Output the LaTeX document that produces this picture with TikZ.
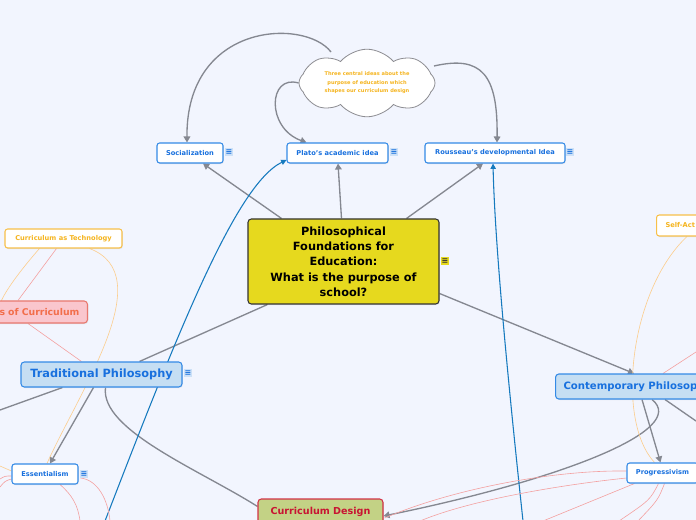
\documentclass[tikz,border=0pt]{standalone}
\usepackage{fontspec}
\setmainfont{DejaVu Sans}
\usetikzlibrary{arrows.meta,shapes.symbols,calc,shadows}
\pgfdeclarelayer{bg}
\pgfsetlayers{bg,main}
\definecolor{bgc}{RGB}{242,245,254}
\definecolor{txtblue}{RGB}{24,112,222}
\definecolor{boxblue}{RGB}{52,138,230}
\definecolor{lightblue}{RGB}{197,222,243}
\definecolor{iconbg}{RGB}{205,225,247}
\definecolor{centralfill}{RGB}{230,217,30}
\definecolor{arrgray}{RGB}{133,136,145}
\definecolor{orangetxt}{RGB}{245,180,30}
\definecolor{orangebox}{RGB}{247,192,74}
\definecolor{orangeline}{RGB}{252,205,140}
\definecolor{pinkline}{RGB}{244,160,160}
\definecolor{salmonfill}{RGB}{250,198,205}
\definecolor{salmonbox}{RGB}{232,120,110}
\definecolor{salmontxt}{RGB}{242,110,75}
\definecolor{olivefill}{RGB}{195,210,133}
\definecolor{crimsonbox}{RGB}{210,50,70}
\definecolor{crimsontxt}{RGB}{200,20,50}
\definecolor{bluecon}{RGB}{22,122,190}
\definecolor{cloudline}{RGB}{140,140,145}
\tikzset{
  shad/.style={drop shadow={opacity=0.15,shadow xshift=0.6pt,shadow yshift=-0.8pt}},
  subbox/.style={draw=boxblue, fill=white, rounded corners=2pt, line width=0.8pt,
    text=txtblue, font=\bfseries\fontsize{5}{6}\selectfont, minimum height=15pt,
    inner sep=0pt, shad},
  mainbox/.style={draw=boxblue, fill=lightblue, rounded corners=2.5pt, line width=0.8pt,
    text=txtblue, font=\bfseries\fontsize{8.5}{10}\selectfont, inner sep=0pt, shad},
  orbox/.style={draw=orangebox, fill=white, rounded corners=2pt, line width=0.8pt,
    text=orangetxt, font=\bfseries\fontsize{5}{6}\selectfont, inner sep=0pt, shad},
  icon/.style={fill=iconbg, text=txtblue, font=\bfseries\fontsize{6}{6}\selectfont,
    inner sep=0.6pt, minimum width=6pt, minimum height=6.5pt},
  garrow/.style={draw=arrgray, line width=1pt, -{Triangle[width=5pt,length=4.5pt]}},
  gline/.style={draw=arrgray, line width=1pt},
  pline/.style={draw=pinkline, line width=0.45pt},
  oline/.style={draw=orangeline, line width=0.45pt},
  barrow/.style={draw=bluecon, line width=0.8pt, -{Triangle[width=4pt,length=4pt]}}
}
\begin{document}
\begin{tikzpicture}[x=0.75pt,y=-0.75pt]
\useasboundingbox (0,0) rectangle (696,520);
\begin{pgfonlayer}{bg}
\fill[bgc] (0,0) rectangle (696,520);
\end{pgfonlayer}

% ---------- nodes ----------
\node[shape=cloud, cloud puffs=8, cloud puff arc=100, aspect=2.4,
  minimum width=102pt, minimum height=46pt, inner sep=0pt,
  draw=cloudline, fill=white, line width=0.6pt, text=orangetxt, align=center,
  font=\bfseries\fontsize{3.8}{6.4}\selectfont] (cloud) at (367,83)
  {Three central ideas about the\\purpose of education which\\shapes our curriculum design};

\node[subbox, minimum width=49.5pt] (soc) at (190,153) {Socialization};
\node[subbox, minimum width=75.75pt] (plato) at (337.5,153) {Plato's academic idea};
\node[subbox, minimum width=105pt] (rous) at (495,153) {Rousseau's developmental Idea};
\node[icon] (socI) at (229,152) {≡};
\node[icon] (platoI) at (394,152) {≡};
\node[icon] (rousI) at (570,152) {≡};

\node[draw=black!80, fill=centralfill, rounded corners=2.5pt, line width=0.8pt,
  minimum width=143.25pt, minimum height=63.75pt, align=center, inner sep=0pt,
  font=\bfseries\fontsize{8.5}{11.5}\selectfont, shad] (central) at (343.5,261.5)
  {Philosophical\\Foundations for\\ Education:\\What is the purpose of\\school?};
\node[icon, fill=centralfill, text=black!80] (centralI) at (445,261) {≡};

\node[orbox, minimum width=87.75pt, minimum height=14.25pt] (techno) at (63.5,238.5)
  {Curriculum as Technology};
\node[orbox, minimum height=15.75pt, anchor=west, text width=70pt, align=left,
  inner xsep=6.75pt] (selfact) at (656,225.5) {Self-Act};

\node[draw=salmonbox, fill=salmonfill, rounded corners=2.5pt, line width=0.8pt,
  text=salmontxt, font=\bfseries\fontsize{7}{8}\selectfont, minimum height=16.5pt,
  inner ysep=0pt, inner xsep=6pt, text width=100pt, align=right, anchor=east, shad]
  (socur) at (88,312) {s of Curriculum};

\node[mainbox, minimum width=120.75pt, minimum height=18.75pt] (trad) at (101.5,374.5)
  {Traditional Philosophy};
\node[icon] (tradI) at (188,373) {≡};
\node[mainbox, minimum height=18.75pt, anchor=west, text width=140pt, align=left,
  inner xsep=6pt, font=\bfseries\fontsize{7.6}{9}\selectfont] (contemp) at (555,386.5)
  {Contemporary Philosop};

\node[subbox, minimum width=49.5pt] (essen) at (45,474) {Essentialism};
\node[icon] (essenI) at (84,474) {≡};
\node[subbox, minimum width=53.25pt] (prog) at (662.5,473) {Progressivism};

\node[draw=crimsonbox, fill=olivefill, rounded corners=2.5pt, line width=0.8pt,
  text=crimsontxt, font=\bfseries\fontsize{7.2}{8}\selectfont, minimum width=93.75pt,
  minimum height=19.5pt, inner sep=0pt, shad] (curdes) at (320.5,512) {Curriculum Design};

% ---------- free ends ----------
\coordinate (offL) at (0,410);
\coordinate (offR) at (696,421);
\coordinate (offRp) at (696,352);
\coordinate (offTech) at (0,304);
\coordinate (b1) at (105,521);
\coordinate (b2) at (523,521);
\coordinate (eL1) at (0,466);
\coordinate (eL2) at (0,479);
\coordinate (eL3) at (0,487);
\coordinate (eB1) at (80,521);
\coordinate (eB2) at (110,521);
\coordinate (pB1) at (420,521);
\coordinate (pB2) at (543,521);
\coordinate (pB3) at (619,521);
\coordinate (pB4) at (638,521);

% ---------- connectors ----------
\begin{pgfonlayer}{bg}
% cloud links
\draw[garrow] ($(cloud.center)+(-36,-31)$) .. controls (305,18) and (186,22) .. ($(soc.north)+(-3,0)$);
\draw[garrow] (cloud.west) .. controls (268,74) and (266,128) .. ($(plato.north)+(-31,0)$);
\draw[garrow] ($(cloud.center)+(67,-17)$) .. controls (482,55) and (498,75) .. ($(rous.north)+(2,0)$);
% central links
\draw[garrow] ($(central.north)+(-62,0)$) -- ($(soc.south)+(13,0)$);
\draw[garrow] ($(central.north)+(-2,0)$) -- ($(plato.south)+(0.5,0)$);
\draw[garrow] ($(central.north)+(63,0)$) -- ($(rous.south)+(-12,0)$);
\draw[gline] ($(central.south west)+(20,0)$) -- ($(trad.north)+(38,0)$);
\draw[garrow] ($(central.east)+(0,32)$) -- ($(contemp.north west)+(79,0)$);
% traditional
\draw[garrow] ($(trad.south)+(-8,0)$) -- ($(essen.north)+(5,0)$);
\draw[gline] ($(trad.south west)+(42,0)$) -- (offL);
\draw[gline] ($(trad.south)+(4,0)$) .. controls (100,430) and (200,470) .. ($(curdes.north west)+(0,8)$);
% contemporary
\draw[garrow] ($(contemp.south west)+(87,0)$) -- ($(prog.north)+(-2,0)$);
\draw[garrow] ($(contemp.south west)+(97,0)$) .. controls (690,430) and (560,480) .. ($(curdes.east)+(0,4)$);
\draw[gline] ($(contemp.south west)+(110,0)$) -- (offR);
% blue links
\draw[barrow] (b1) .. controls (175,340) and (235,185) .. ($(plato.west)+(0,7)$);
\draw[barrow] (b2) .. controls (510,400) and (495,250) .. ($(rous.south)+(-2,0)$);
% pink / orange thin links
\draw[pline] ($(techno.south)+(-7,0)$) -- ($(socur.north east)+(-70,0)$);
\draw[pline] ($(socur.south east)+(-60,0)$) -- ($(trad.north west)+(61,0)$);
\draw[oline] ($(techno.south west)+(35,0)$) .. controls (25,265) and (5,290) .. (offTech);
\draw[oline] ($(techno.south)+(26,0)$) .. controls (160,275) and (80,390) .. ($(essen.north)+(2,0)$);
\draw[oline] (eL1) .. controls (5,468) .. ($(essen.west)+(0,-3)$);
\draw[pline] (eL2) .. controls (5,476) .. ($(essen.west)+(0,2)$);
\draw[pline] (eL3) .. controls (5,481) .. ($(essen.west)+(0,5)$);
\draw[pline] ($(essen.south)+(15,0)$) .. controls (72,495) and (78,505) .. (eB1);
\draw[pline] ($(essen.east)+(2,4)$) .. controls (98,480) and (108,500) .. (eB2);
\draw[pline] ($(contemp.north west)+(108,0)$) -- (offRp);
\draw[oline] ($(selfact.south west)+(31,0)$) .. controls (630,290) and (615,420) .. ($(prog.north)+(-8,0)$);
\draw[pline] ($(prog.west)+(0,-2)$) .. controls (550,470) and (450,490) .. ($(curdes.east)+(1,6)$);
\draw[pline] ($(prog.west)+(0,5)$) .. controls (560,485) and (470,500) .. (pB1);
\draw[pline] ($(prog.south west)+(8,0)$) -- (pB2);
\draw[pline] ($(prog.south)+(-4,0)$) .. controls (650,500) .. (pB3);
\draw[pline] ($(prog.south)+(2,0)$) .. controls (658,500) .. (pB4);
\end{pgfonlayer}
\end{tikzpicture}
\end{document}
